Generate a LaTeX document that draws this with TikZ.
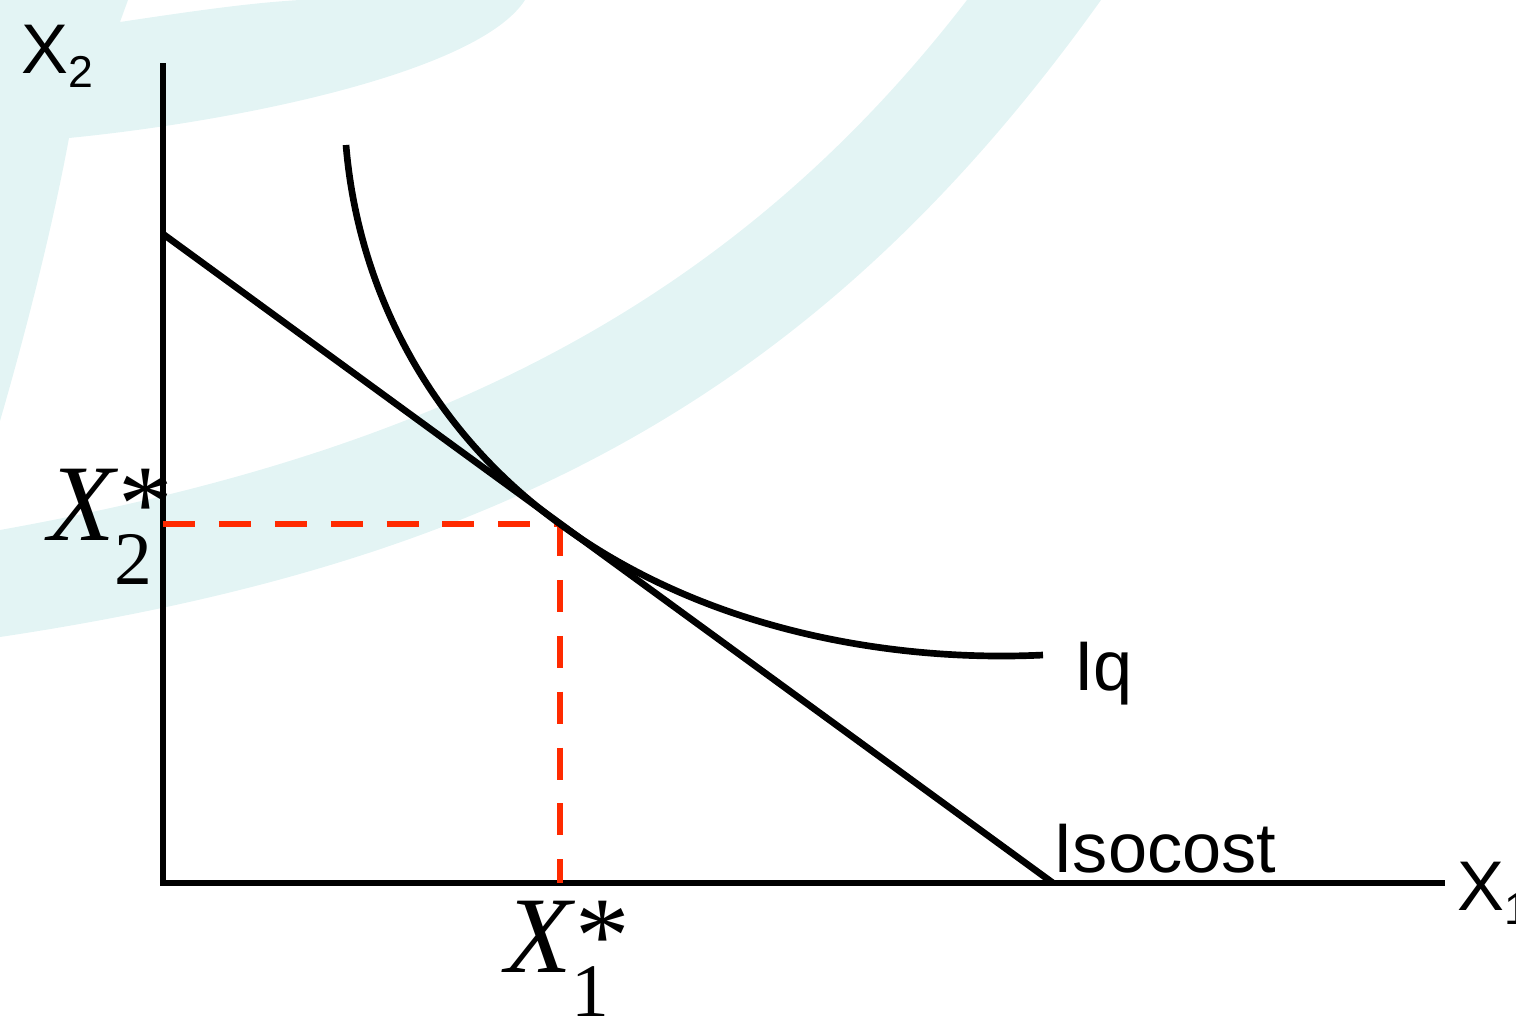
\documentclass[tikz,border=0pt]{standalone}
\usepackage{fontspec}
\newfontfamily\labelfont{Liberation Sans}
\newfontfamily\optfont{Liberation Serif}
\definecolor{optred}{HTML}{FF2A00}
\definecolor{wmteal}{HTML}{E3F4F4}
% optimal input label: X, subscript and star
\newcommand{\optvar}[1]{{\itshape X}\rlap{\raisebox{-0.44cm}{\fontsize{21.5}{22}\selectfont #1}}\kern1pt *}

\begin{document}
\begin{tikzpicture}[line width=1.9pt,
  lbl/.style={font=\labelfont\fontsize{20}{24}\selectfont, inner sep=0pt, anchor=base west},
  optlbl/.style={font=\optfont\fontsize{31}{36}\selectfont, inner sep=0pt, anchor=base west},
  proj/.style={optred, dash pattern=on 9.1pt off 6.8pt}]
\useasboundingbox (-1.63,-1.38) rectangle (13.53,8.83);
% watermark in the background
\fill[wmteal] (-1.63,8.83) -- (-0.35,8.83) -- (-0.43,8.61) .. controls (0.37,8.73) and (0.87,8.80) .. (1.37,8.83)
  -- (3.62,8.83) .. controls (3.17,8.13) and (0.87,7.63) .. (-0.94,7.45)
  .. controls (-1.11,6.53) and (-1.38,5.48) .. (-1.63,4.62) -- cycle;
\fill[wmteal] (-1.63,3.53) .. controls (2.37,4.25) and (5.54,5.58) .. (8.04,8.83) -- (9.38,8.83)
  .. controls (6.58,4.91) and (3.37,3.21) .. (-1.63,2.46) -- cycle;
% axes
\coordinate (O) at (0,0);
\coordinate (ytop) at (0,8.20);
\coordinate (xend) at (12.82,0);
\draw (ytop) -- (O) -- (xend);
% isocost line and isoquant
\coordinate (A) at (0,6.49);
\coordinate (B) at (8.90,0);
\coordinate (T) at (3.97,3.59);
\coordinate (S) at (1.83,7.38);
\coordinate (E) at (8.80,2.28);
\draw[proj] (O |- T) -- (T);
\draw[proj] (T) -- (T |- O);
\draw (A) -- (B);
\draw (S) .. controls (1.95,5.93) and (2.67,4.53) .. (T) .. controls (5.47,2.49) and (7.37,2.21) .. (E);
% labels
\node[lbl] (x2) at (-1.45,8.10) {X\raisebox{-0.14cm}{\fontsize{12.7}{14}\selectfont 2}};
\node[lbl] (x1) at (12.91,-0.27) {X\raisebox{-0.14cm}{\fontsize{12.7}{14}\selectfont 1}};
\node[lbl] (iq) at (9.08,1.93) {Iq};
\node[lbl] (iso) at (8.87,0.11) {Isocost};
\node[optlbl] (x2opt) at (-1.18,3.43) {\optvar{2}};
\node[optlbl] (x1opt) at (3.39,-0.89) {\optvar{1}};
\end{tikzpicture}
\end{document}
